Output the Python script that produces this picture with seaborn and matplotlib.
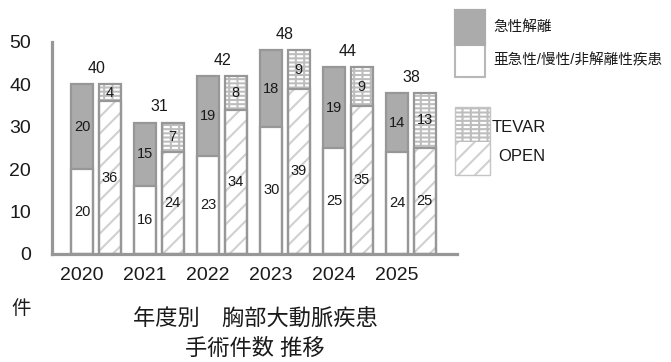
import numpy as np
import pandas as pd
import seaborn as sns
import matplotlib.pyplot as plt
from matplotlib.patches import Rectangle

# data
years = ['2020', '2021', '2022', '2023', '2024', '2025']
acute = [20, 15, 19, 18, 19, 14]        # 急性解離
chronic = [20, 16, 23, 30, 25, 24]      # 亜急性/慢性/非解離性疾患
tevar = [4, 7, 8, 9, 9, 13]
open_surg = [36, 24, 34, 39, 35, 25]
totals = [a + c for a, c in zip(acute, chronic)]

sns.set_theme(style='white')
plt.rcParams['font.family'] = ['Liberation Sans', 'Noto Sans CJK JP']
plt.rcParams['hatch.linewidth'] = 1.5

EDGE = '#979797'
ACUTE = '#ababab'
TEVAR_BG = '#bdbdbd'
OPEN_HATCH = '#d0d0d0'
TXT = '#1a1a1a'

W, H = 671, 362
fig = plt.figure(figsize=(W / 100, H / 100), dpi=100)
ax = fig.add_axes([52 / W, 1 - 254 / H, (457 - 52) / W, (254 - 42) / H])

top = pd.DataFrame({'year': years * 2, 'side': ['L'] * 6 + ['R'] * 6,
                    'value': totals + totals})
low = pd.DataFrame({'year': years * 2, 'side': ['L'] * 6 + ['R'] * 6,
                    'value': chronic + open_surg})

common = dict(x='year', y='value', hue='side', hue_order=['L', 'R'], order=years,
              width=0.87, gap=0.195, errorbar=None, legend=False, ax=ax, saturation=1)

# fills (containers 0,1), dash breaks for TEVAR (2,3), lower segments (4,5)
sns.barplot(data=top, palette=[ACUTE, TEVAR_BG], linewidth=0, **common)
sns.barplot(data=top, palette=[EDGE, EDGE], fill=False, linewidth=0, **common)
sns.barplot(data=low, palette=['white', 'white'], linewidth=0, **common)
# outlines (6,7,8,9)
sns.barplot(data=top, palette=[EDGE, EDGE], fill=False, linewidth=1.6, **common)
sns.barplot(data=low, palette=[EDGE, EDGE], fill=False, linewidth=1.6, **common)

# TEVAR: white dashes on grey
for p in ax.containers[1]:
    p.set_edgecolor('white')
    p.set_hatch('----')
for p in ax.containers[2]:
    p.set_visible(False)
for p in ax.containers[3]:
    p.set_edgecolor(TEVAR_BG)
    p.set_facecolor('none')
    p.set_hatch('||')
# OPEN: light diagonal lines
for p in ax.containers[5]:
    p.set_edgecolor(OPEN_HATCH)
    p.set_hatch('//')

off = 0.87 / 4
for i in range(len(years)):
    ax.text(i - off, chronic[i] / 2, str(chronic[i]), ha='center', va='center', fontsize=10.5, color=TXT)
    ax.text(i - off, chronic[i] + acute[i] / 2, str(acute[i]), ha='center', va='center', fontsize=10.5, color=TXT)
    ax.text(i + off, open_surg[i] / 2, str(open_surg[i]), ha='center', va='center', fontsize=10.5, color=TXT)
    ax.text(i + off, open_surg[i] + tevar[i] / 2, str(tevar[i]), ha='center', va='center', fontsize=10.5, color=TXT)
    ax.annotate(str(totals[i]), (i, totals[i]), xytext=(0, 6), textcoords='offset points',
                ha='center', va='bottom', fontsize=11.5, color=TXT)

ax.set_xlim(-0.70, 5.73)
ax.set_ylim(0, 50)
ax.set_yticks(range(0, 51, 10))
ax.set_xticks(np.arange(len(years)) - 0.22, years)
ax.tick_params(axis='both', length=0, labelsize=14, labelcolor=TXT)
ax.tick_params(axis='y', pad=15)
ax.tick_params(axis='x', pad=9)
ax.set_xlabel('')
ax.set_ylabel('')
sns.despine(ax=ax)
for s in ['left', 'bottom']:
    ax.spines[s].set_color(EDGE)
    ax.spines[s].set_linewidth(2.3)


def box(x0, y0, x1, y1, **kw):
    fig.add_artist(Rectangle((x0 / W, 1 - y1 / H), (x1 - x0) / W, (y1 - y0) / H,
                             transform=fig.transFigure, **kw))


# legend 1
box(455, 10, 485, 77, facecolor='white', edgecolor='#b8b8b8', linewidth=1.5)
box(455, 10, 485, 45, facecolor=ACUTE, edgecolor=ACUTE, linewidth=1.5)
fig.text(493 / W, 1 - 27 / H, '急性解離', fontsize=10.5, va='center', color=TXT)
fig.text(493 / W, 1 - 60 / H, '亜急性/慢性/非解離性疾患', fontsize=10.5, va='center', color=TXT)

# legend 2
box(455, 107, 490, 142, facecolor=TEVAR_BG, edgecolor='white', linewidth=0, hatch='----')
box(455, 107, 490, 142, facecolor='none', edgecolor=TEVAR_BG, linewidth=0, hatch='||')
box(455, 142, 490, 175, facecolor='white', edgecolor=OPEN_HATCH, linewidth=0, hatch='//')
box(455, 107, 490, 175, facecolor='none', edgecolor='#c4c4c4', linewidth=1)
fig.text(492 / W, 1 - 128 / H, 'TEVAR', fontsize=12, va='center', color=TXT)
fig.text(498 / W, 1 - 157 / H, 'OPEN', fontsize=12, va='center', color=TXT)

# bottom captions
fig.text(21 / W, 1 - 309 / H, '件', fontsize=14, ha='center', va='center', color=TXT)
fig.text(255 / W, 1 - 320 / H, '年度別\u3000胸部大動脈疾患', fontsize=16, ha='center', va='center', color=TXT)
fig.text(255 / W, 1 - 349 / H, '手術件数 推移', fontsize=16, ha='center', va='center', color=TXT)

fig.savefig('out.png', dpi=100)
